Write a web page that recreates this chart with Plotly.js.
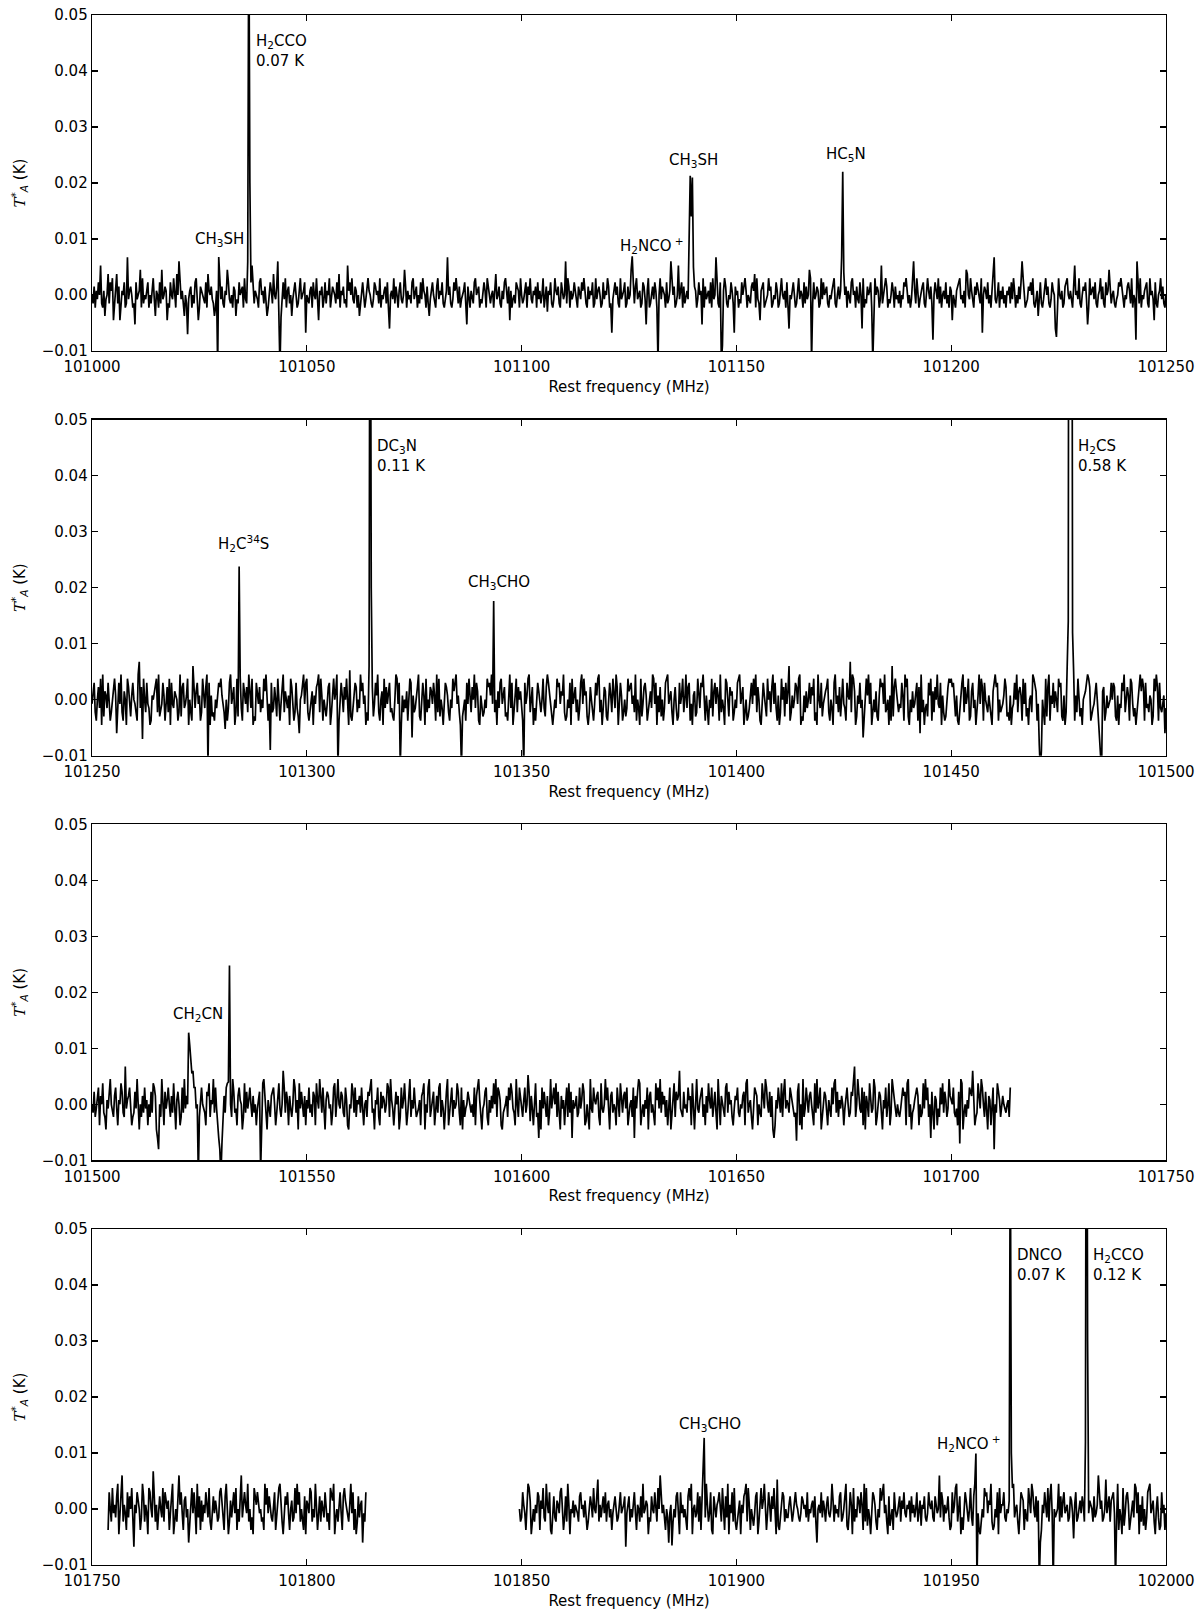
<!DOCTYPE html>
<html><head><meta charset="utf-8">
<script src="https://cdn.plot.ly/plotly-3.0.1.min.js"></script>
<style>body{margin:0;background:#fff}#chart{width:1200px;height:1621px}</style>
</head><body><div id="chart"></div>
<script>
// ---- noise levels: each letter is one 0.25 MHz channel; 'm' = 0 K, one letter step = LEVEL_K
const LEVELS = 'abcdefghijklmnopqrstuvwxy';
const LEVEL_K = 0.00075;
const CHANNEL_MHZ = 0.25;

const p1Noise = [
"mkojnlpmtkjnhlmrkpnqgjmrkoglnmpjkvlnomjkfplmnsjqkm",
"lnpjmkoqlhnmjpkslmongkjpmlqnjrmuolnjhmkelnojmkpqlg",
"jonmlkpjrnmolkhjnpmqlokjnmsplkmjonhlkpmnojqlkemnpt",
"oknmljpqmnkolhjmpnkrmloujnkmplqjnokmhlnpmjkoqlmnpd",
"mlknojpmlqkgnmojlpknmqjlonmkplrjnmokljtnpmqlkonjmh",
"knpmjloqnmkjlpomnkqjmlnokpjemnlqkomjnplkmsojnlmkpq",
"lnojmkplqnmjokhlnpmkjoqlnmpkjlnvmokjlpnqmkojlmnpkf",
"omjnlkpqmnojlkmpnjqolkmnjprlmokjnlpqmkognjlmkponjq",
"mklnpjomqlknmojplnkmqjloinmpkjlqnmokjpnlmukqojnlmp",
"nkjomlpnqmkjolnmpjkqlnomjkplnmqojkdlnpmokjqlmnpjko",
"lmsjpkoqlmnjkpolfnqjkmolpnjkmqlonmjpklnuqmojkmtlnpj",
"okmnljtqmkonjlpmnfqjolmnkpjqlmvnkjplmnqokjmlpnkdom",
"njlkpmoqnjmlkopnrjqlkgnopjklmqnojkmlpnjkoqmlnjpkem",
"lnpmjkoqlnmjpkolmsqjkplmonjkqlpmnokjmlnpqkjmolnvkj",
"mojnlkpqmnjolkpmeqjlkomnpjlkqmonjltkmnqojlkmpnjolm",
"knjmlpoqnkmjlpunkqmjlnopkjmqnlokfmpnlqkojmnlpkmjon",
"gmkjnopqlmknjsrmlqnkjompnlkqdmonlpkmjnqvlkmpjnlokm",
"jnmokplqnjmkolpuqmjklonpmqkjlnhmpkjlnqmokjlpnmecjq",
"mlnjkopqmlnkjotmnlqkjmonplfjqmnolpkjmnqlokjpmnsokm",
"nkjlmpoqnkjmlopnkqjmlnupkqjmlnopkjqmnlgpkjmnqlokjm",
"qmlhnkjopslmngkjrqopmlnhjkdmqlnpojkmrlnsqkjomplnhk",
"lpnkjmqohmlrnkgjpqlomnjkhslqpmnojkrmlvnjkqpolmhjnk"
].join('');

const p2Noise = [
"lnqjhmpkrgsionkqlhjmprnekqlsjhomgrpkinqmljhsvkpnrm",
"jqlkghnmoprjsiklqnhmpjrgqlkonmhjsipqklnrgmjhupkoql",
"nhjrmkpslqgnijhmkoqprnljfmhkqslnpgjriomkhqnlpjsmkr",
"gihqnlpjmkrosnhlgqjkpmirnhlqsjomkngrplhjqkiemnpslq",
"rjhkmognlpqsjrnhmkilpqgjnrmoskhlqnjpmrkgtihlnqpjmk",
"soqlngjhrmkpilqnsjhmogrkplnqjkihmsrlqpgnjmkohlrqdn",
"jkmpsihlqngrjmkpolqnhsjrimkglqpnjhmkroqslnjgpikmhq",
"lrnjpmskqohgnlijmkrpqnslhjmgokqrlnpijhmskqglnrjpmo",
"khiqlnrsjmpgkhnqoljmrkipsqnlhgjmkrpqlonsjhimkqgrln",
"pjmhkqslrnoigjpmkhlqnrsjmgkpoihlqnjrmkspglqnhjmikr",
"opqlnjshmkgrilpqnhjmoksrlqgnjpimhkqrslnojgmpkhiqln",
"rjmskpqhlgnoijrmkqpslhnjgmkrioqlpnhsjmkgrqlipnohjm",
"kqrslnpgjmhikoqlrnsjpmhgkqnlirmojpslqkhngjrmpiqlou",
"hjnkmqplrsgihnjokmqlpnrhjgsmkqilnoprjhmkgqslnjpimr",
"lkhqnmvjsroginlqkmdjprnslqgkmjoihnrpqlsjkmgnhuipro",
"mjlkqnhsprigmjoklnqhpesjmgkliqnrhojpmslkqgnjhimprq",
"rpqlinhgkmqsjplnrhioqkmgjnslrphqmkjnligorspqhmjkln",
"rpijhngklqmsjopnhrlqikgmnjsrpohlqknmjgripshnlqkomj",
"rpqihngjlkomsqphnjrlikgmnoqsrphjklnqmigrsophjnklmq",
"mqpihnglkqosjmpnhrqlikgjmnsorphqkljnmgirosphqkjlnm",
"kpmjlnqhoerkmjsnlqgkpomhjrnkqlsmtjpokgnlhqmjrkpnlo",
"nlqjmkphosrjgnmlkqpjohmkrlnsqjgmpkonhlqjmrkpsnljmo"
].join('');

const p3Noise = [
"mkpjlnqhomrkjgnlpsmkjoqlhnmrpkjvlnoqmhjkplsngmjokq",
"lnhmjpkrqognlmjskhplnqmjokrlgnpmhjqkslomnjpkhrqlmf",
"jnqmlkhporjnmskqlgpmnjhokqrlnmjspklhoqnmgjrkplnqmj",
"okmhlnpqjrsmkgnljopqmhknrljmuqkpnholjmsqkngrlpmjoh",
"nlqkmjpohrnlsmkqjgnpolmhkqrjnsmlpokjqnhgmlrpkqjnmo",
"kqlhmnjporsklgnmqjhplonkmrqjsnlhkpmogjqlnrmhkpsjnl",
"qmjklnhoprgmkqsjlnphmokqrjnlgmpshkoqjnlmrpkhqgnjlm",
"pnlkmjqhorsnkglmpqjhnkolrmsjqpnhgklmojqnrplkhsmjqn",
"ljnqkmtpiolhmrjkengqlpmjohkslnqmrjpkgolnhmqjrkpenl",
"mojkqlnrphimjgslkqnmopjhrlkmsnqjgopkmlhqnjrmkoplqh",
"kmnjqeolpsrhkmjnlqgopkmjhrnqlskpmojnhlqgkmrjpnoulk",
"jplmkqnohrjgmslknpqjmhokrnlqjmpkgsnhomljqrkpmnjhlo",
"nqkjmlophrskmnjglqpohmkjrnlsqmkpjogehnlqmkrjpslnmk",
"qomljknprhmgsjlqnkopmjhrkslnqgjmpokhnljqmrskpjnlom",
"hlnqmjkporvjmsnlkqhpgomjrnklsqhjmpokgnlqjmrhkspnlj",
"mkjlnqophrsjmgklnpqohmjkrlsnqjmepkgonhljqmrkpnjlso",
"nmqkjlhposrgkmjnlqpoumhjkrnlsqmjpkgonhlqjmkrpnjlom",
"lkmnjqhprogsjmknlqpohmjdkrnlsqjmpkgonhlqjmkrpnjlsm",
"qjnmklhprosgjmnklqphomrkjsnlqhgpmkonljqrmhpkgsnlqm"
].join('');

const p4aNoise = [
"hqmjrlnkpsgmoujnlhqkpmrjdnlqomhkspjnlgrqmkvojnhlpm",
"krjqnmohlpsgkmjrunqlhopkmejnrlqmgskphojnlqmkrjhnpl",
"omjkqrnlhpsmgjoknqlrhmjpukoqnlsjmhkgrpnqolmjkhsnrl",
"pmkjnqhlorsmjgkpnqlhmojkrlsnqjmkhpgonlrqjmksnhlpjo",
"mkqnjlhrposgkmjnqlhpromkjnslqhmgjpknoeljqmhrkpsjnm",
"lnkqmjphosrgmnjklqphomrkjsnlqhgmpkjonlqrmhkpjsngml"
].join('');

const p4bNoise = [
"mjkqnlhpsrogkmjnlqphomrkjsnlqhgmpkjonlqrmhkpjsngml",
"oknmljpqmnkolhjmpnkrmlotjnkmplqjnokmhlnpmjkoqlmnpd",
"lnpjmkoqlhnmjpkslmongkjpmlqnjrmuolnjhmkelnojmkpqlg",
"qlnkmjhprosgmnklqjphomrksnjlqhgpmknoqljrmhpksgnlqj",
"rjhkmognlpqsjrnhmkilpqgjnrmoskhlqnjpmrkgtihlnqpjmk",
"knpmjloqnmkjlpomnkqjmlnokpjemnlqkomjnplkmsojnlmkpq",
"jkmpsihlqngrjmkpolqnhsjrimkglqpnjhmkroqslnjgpikmhq",
"mklnpjomqlknmojplnkmqjloinmpkjlqnmokjpnlmukqojnlmp",
"khiqlnrsjmpgkhnqoljmrkipsqnlhgjmkrpqlonsjhimkqgrln",
"nqkjmlophrskmnjglqpohmkjrnlsqmkpjogehnlqmkrjpslnmk",
"lmsjpkoqlmnjkpolfnqjkmolpnjkmqlonmjpklnuqmojkmtlnpj",
"opqlnjshmkgrilpqnhjmoksrlqgnjpimhkqrslnojgmpkhiqln",
"hlnqmjkporvjmsnlkqhpgomjrnklsqhjmpokgnlqjmrhkspnlj"
].join('');

// ---- spectral features (channel frequency in MHz, T*A in K)
const p1FeatFreq = [101022.25, 101029.25, 101029.5, 101036.25, 101036.5, 101036.75, 101043.75, 101044.0,
  101125.75, 101131.75, 101139.0, 101139.25, 101139.5, 101139.75, 101140.0, 101146.5, 101146.75,
  101167.5, 101174.75, 101175.0, 101181.75, 101195.75, 101243.0];
const p1FeatVal = [-0.007, -0.013, 0.0068, 0.006, 0.07, 0.02, -0.013, -0.004,
  0.0069, -0.012, 0.008, 0.0213, 0.014, 0.0210, 0.005, -0.012, -0.009,
  -0.012, 0.022, 0.004, -0.012, -0.008, -0.008];

const p2FeatFreq = [101261.75, 101277.0, 101284.25, 101284.5, 101291.5, 101307.25, 101314.5, 101314.75, 101315.0,
  101321.75, 101336.0, 101343.5, 101350.5, 101470.5, 101470.75, 101471.0,
  101477.0, 101477.25, 101477.5, 101477.75, 101478.0, 101478.25, 101478.5,
  101484.75, 101485.0, 101499.75];
const p2FeatVal = [-0.007, -0.012, 0.0238, 0.004, -0.009, -0.012, 0.006, 0.11, 0.02,
  -0.012, -0.012, 0.0176, -0.012, -0.008, -0.013, -0.009,
  0.006, 0.014, 0.2, 0.58, 0.15, 0.012, 0.005,
  -0.009, -0.013, -0.006];

const p3FeatFreq = [101515.25, 101515.5, 101522.5, 101522.75, 101523.0, 101523.25, 101523.5, 101523.75, 101524.75,
  101529.5, 101529.75, 101530.0, 101530.25, 101531.75, 101532.0, 101539.25, 101664.0, 101702.0, 101710.0];
const p3FeatVal = [-0.006, -0.008, 0.0128, 0.0106, 0.007, 0.0055, 0.006, 0.003, -0.013,
  -0.006, -0.008, -0.013, -0.007, 0.004, 0.0248, -0.012, -0.0065, -0.007, -0.008];

const p4FeatFreq = [101885.0, 101892.25, 101892.5, 101955.75, 101956.0, 101963.75, 101964.0, 101970.5, 101973.75,
  101981.25, 101981.5, 101981.75, 101988.25];
const p4FeatVal = [-0.0065, 0.004, 0.0127, 0.0099, -0.013, 0.07, 0.01, -0.013, -0.013,
  0.012, 0.12, 0.03, -0.013];

// ---- data segments: [start MHz, end MHz]
const p1Segments = [[101000, 101250]];
const p2Segments = [[101250, 101500]];
const p3Segments = [[101500, 101713.75]];
const p4Segments = [[101753.75, 101813.75], [101849.5, 102000]];

// ---- axis ranges and tick labels
const xRanges = [[101000, 101250], [101250, 101500], [101500, 101750], [101750, 102000]];
const yTickVals = [-0.01, 0.00, 0.01, 0.02, 0.03, 0.04, 0.05];

// ---- line labels: text, frequency, T*A, anchor
const p1Labels = [
  ["CH<sub>3</sub>SH", 101029.6, 0.0100, "center"],
  ["H<sub>2</sub>CCO<br>0.07 K", 101037.7, 0.0473, "left"],
  ["H<sub>2</sub>NCO<sup> +</sup>", 101130.4, 0.0088, "center"],
  ["CH<sub>3</sub>SH", 101139.9, 0.0241, "center"],
  ["HC<sub>5</sub>N", 101175.5, 0.0251, "center"]
];
const p2Labels = [
  ["H<sub>2</sub>C<sup>34</sup>S", 101285.3, 0.0279, "center"],
  ["DC<sub>3</sub>N<br>0.11 K", 101315.9, 0.0473, "left"],
  ["CH<sub>3</sub>CHO", 101344.7, 0.0210, "center"],
  ["H<sub>2</sub>CS<br>0.58 K", 101479.05, 0.0473, "left"]
];
const p3Labels = [
  ["CH<sub>2</sub>CN", 101524.7, 0.0160, "center"]
];
const p4Labels = [
  ["CH<sub>3</sub>CHO", 101893.8, 0.0151, "center"],
  ["H<sub>2</sub>NCO<sup> +</sup>", 101954.2, 0.0117, "center"],
  ["DNCO<br>0.07 K", 101964.8, 0.0473, "left"],
  ["H<sub>2</sub>CCO<br>0.12 K", 101982.6, 0.0473, "left"]
];

// ---------------------------------------------------------------
function buildPanel(segments, noiseStrs, featF, featV) {
  const xs = [], ys = [];
  segments.forEach((seg, si) => {
    const n = Math.round((seg[1] - seg[0]) / CHANNEL_MHZ) + 1;
    const str = noiseStrs[si];
    const sx = [], sy = [];
    for (let i = 0; i < n && i < str.length; i++) {
      sx.push(seg[0] + i * CHANNEL_MHZ);
      sy.push((LEVELS.indexOf(str[i]) - 12) * LEVEL_K);
    }
    featF.forEach((f, j) => {
      const idx = Math.round((f - seg[0]) / CHANNEL_MHZ);
      if (idx >= 0 && idx < sx.length) sy[idx] = featV[j];
    });
    if (si > 0) { xs.push(null); ys.push(null); }
    xs.push(...sx); ys.push(...sy);
  });
  return {xs, ys};
}

const panelDefs = [
  {segs: p1Segments, noise: [p1Noise], ff: p1FeatFreq, fv: p1FeatVal, labels: p1Labels},
  {segs: p2Segments, noise: [p2Noise], ff: p2FeatFreq, fv: p2FeatVal, labels: p2Labels},
  {segs: p3Segments, noise: [p3Noise], ff: p3FeatFreq, fv: p3FeatVal, labels: p3Labels},
  {segs: p4Segments, noise: [p4aNoise, p4bNoise], ff: p4FeatFreq, fv: p4FeatVal, labels: p4Labels}
];

const domains = [[0.78323, 1], [0.52215, 0.73892], [0.26108, 0.47785], [0, 0.21677]];
const traces = [], annotations = [];
const layout = {
  width: 1200, height: 1621,
  margin: {l: 92, r: 34, t: 15, b: 56},
  paper_bgcolor: 'white', plot_bgcolor: 'white',
  showlegend: false,
  font: {family: 'DejaVu Sans', size: 15, color: 'black'},
  annotations: annotations
};
const axCommon = {
  showline: true, mirror: 'ticks', linecolor: 'black', linewidth: 1.3,
  ticks: 'inside', ticklen: 6, tickwidth: 1.1, tickcolor: 'black',
  showgrid: false, zeroline: false,
  tickfont: {family: 'DejaVu Sans', size: 15, color: 'black'}
};

panelDefs.forEach((p, k) => {
  const s = k === 0 ? '' : String(k + 1);
  const d = buildPanel(p.segs, p.noise, p.ff, p.fv);
  traces.push({type: 'scatter', mode: 'lines', x: d.xs, y: d.ys,
    xaxis: 'x' + s, yaxis: 'y' + s, line: {color: 'black', width: 1.7},
    connectgaps: false, hoverinfo: 'skip'});
  layout['xaxis' + s] = Object.assign({}, axCommon, {
    range: xRanges[k], tick0: xRanges[k][0], dtick: 50, tickformat: 'd',
    anchor: 'y' + s, domain: [0, 1], ticklabelstandoff: 2,
    title: {text: 'Rest frequency (MHz)', font: {size: 15}, standoff: 6}
  });
  layout['yaxis' + s] = Object.assign({}, axCommon, {
    range: [-0.01, 0.05], tickmode: 'array', tickvals: yTickVals, tickformat: '.2f',
    anchor: 'x' + s, domain: domains[k],
    title: {text: '<span style="font-family:DejaVu Serif"><i>T</i></span><sup>*</sup><sub><i>A</i></sub> (K)', font: {size: 15}, standoff: 12}
  });
  p.labels.forEach(L => {
    annotations.push({
      text: L[0], x: L[1], y: L[2], xref: 'x' + s, yref: 'y' + s,
      xanchor: L[3], yanchor: L[3] === 'left' ? 'top' : 'middle',
      align: 'left', showarrow: false, font: {size: 15, color: 'black'}
    });
  });
});

Plotly.newPlot('chart', traces, layout, {staticPlot: true});
</script>
</body></html>
